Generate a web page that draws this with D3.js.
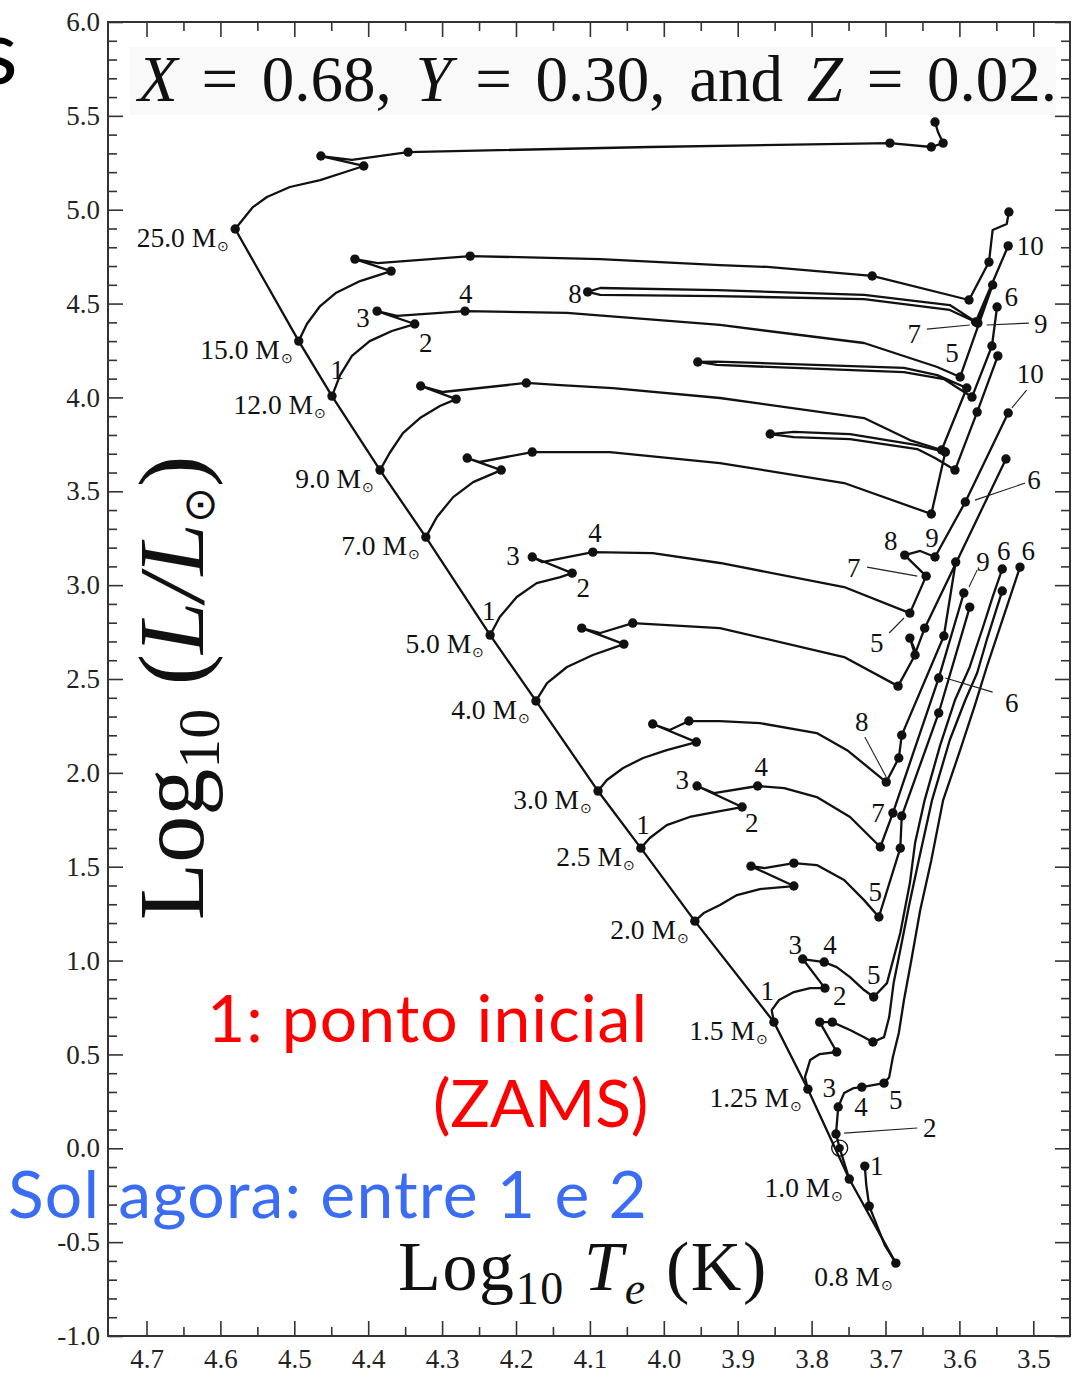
<!DOCTYPE html>
<html>
<head>
<meta charset="utf-8">
<script src="https://cdn.jsdelivr.net/npm/d3@7"></script>
<style>
  body { margin: 0; background: #fff; }
  svg { display: block; }
</style>
</head>
<body>
<svg id="chart" width="1077" height="1375"></svg>
<script>
// Evolutionary tracks in the HR diagram (log Te, log L/Lsun), X = 0.68, Y = 0.30, Z = 0.02.
// Each point: [log10 Te, log10 L/Lsun, 1 if it is a numbered evolutionary stage]

const massLabels = ["25.0", "15.0", "12.0", "9.0", "7.0", "5.0", "4.0", "3.0", "2.5", "2.0", "1.5", "1.25", "1.0", "0.8"];
const zamsLogT = [4.580, 4.494, 4.449, 4.384, 4.322, 4.235, 4.173, 4.089, 4.031, 3.958, 3.851, 3.805, 3.749, 3.686];
const zamsLogL = [4.897, 4.300, 4.007, 3.613, 3.256, 2.734, 2.383, 1.903, 1.599, 1.210, 0.672, 0.315, -0.164, -0.612];

const track25 = [[4.580,4.897,1],[4.556,5.014],[4.537,5.068],[4.506,5.121],[4.465,5.158],[4.431,5.201],[4.406,5.233,1],
  [4.464,5.286,1],[4.422,5.265],[4.346,5.307,1],[4.019,5.334],[3.694,5.355,1],[3.638,5.334,1],[3.622,5.355,1],[3.629,5.414],[3.633,5.467,1]];

const track15 = [[4.494,4.300,1],[4.483,4.391],[4.465,4.487],[4.444,4.556],[4.411,4.620],[4.369,4.673,1],[4.418,4.737,1],
  [4.387,4.716],[4.262,4.753,1],[4.086,4.737],[3.924,4.705],[3.860,4.695],[3.718,4.647,1],[3.587,4.519,1],[3.560,4.721,1],
  [3.555,4.892],[3.536,4.924],[3.533,4.988,1]];

const track12 = [[4.449,4.007,1],[4.438,4.119],[4.422,4.221],[4.398,4.300],[4.368,4.354],[4.337,4.391,1],[4.388,4.460,1],
  [4.361,4.434],[4.269,4.460,1],[4.131,4.450],[3.924,4.386],[3.729,4.290],[3.630,4.162],[3.599,4.109,1],[3.579,4.332],
  [3.555,4.599,1],[3.575,4.396,1],[3.613,4.492],[3.729,4.546],[3.928,4.572],[4.086,4.583],[4.103,4.562,1],[4.086,4.546],
  [3.928,4.540],[3.729,4.524],[3.613,4.466],[3.578,4.402,1],[3.534,4.807,1]];

const track9 = [[4.384,3.613,1],[4.371,3.704],[4.353,3.810],[4.330,3.890],[4.303,3.954],[4.281,3.991,1],[4.329,4.061,1],
  [4.299,4.029],[4.186,4.077,1],[4.140,4.066],[4.069,4.050],[3.924,3.997],[3.729,3.890],[3.667,3.773],[3.624,3.720,1],
  [3.590,4.050,1],[3.630,4.119],[3.675,4.157],[3.928,4.191],[3.954,4.189,1],[3.928,4.173],[3.675,4.135],[3.621,4.098],
  [3.583,4.002,1],[3.556,4.274,1],[3.549,4.482,1]];

const track7 = [[4.322,3.256,1],[4.307,3.363],[4.285,3.469],[4.258,3.549],[4.220,3.613,1],[4.266,3.677,1],[4.249,3.656],
  [4.178,3.709,1],[4.073,3.709],[3.924,3.650],[3.756,3.544],[3.638,3.379,1],[3.619,3.709,1],[3.657,3.746],[3.748,3.805],
  [3.824,3.816],[3.856,3.805,1],[3.824,3.789],[3.748,3.778],[3.657,3.725],[3.633,3.677],[3.606,3.613,1],[3.576,3.922,1],
  [3.548,4.221,1]];

const track5 = [[4.235,2.734,1],[4.222,2.830],[4.199,2.937],[4.172,3.011],[4.140,3.043],[4.124,3.064,1],[4.178,3.150,1],
  [4.165,3.123],[4.096,3.176,1],[4.015,3.171],[3.924,3.118],[3.756,2.990],[3.667,2.851,1],[3.645,3.048,1],[3.674,3.160,1],
  [3.653,3.182],[3.633,3.150,1],[3.592,3.443,1],[3.534,3.917,1]];

const track4 = [[4.173,2.383,1],[4.158,2.478],[4.131,2.564],[4.096,2.628],[4.054,2.686,1],[4.111,2.771,1],[4.086,2.745],
  [4.042,2.798,1],[3.924,2.771],[3.756,2.617],[3.683,2.462,1],[3.660,2.628,1],[3.667,2.718,1],[3.659,2.644],[3.647,2.771,1],
  [3.537,3.672,1]];

const track3 = [[4.089,1.903,1],[4.077,1.962],[4.055,2.026],[4.028,2.079],[3.996,2.121],[3.956,2.164,1],[4.015,2.260,1],
  [3.992,2.228],[3.966,2.276,1],[3.924,2.276],[3.870,2.265],[3.793,2.212],[3.752,2.121],[3.699,1.951,1],[3.682,2.079,1],
  [3.678,2.201,1],[3.621,2.729,1],[3.605,3.123,1]];

const track2p5 = [[4.031,1.599,1],[4.019,1.653],[3.996,1.722],[3.965,1.765],[3.924,1.796],[3.894,1.818,1],[3.955,1.930,1],
  [3.932,1.892],[3.873,1.930,1],[3.837,1.919],[3.793,1.871],[3.748,1.765],[3.707,1.605,1],[3.690,1.786,1],[3.628,2.505,1],
  [3.594,2.958,1]];

const track2 = [[3.958,1.210,1],[3.946,1.253],[3.924,1.296],[3.901,1.349],[3.870,1.381],[3.824,1.397,1],[3.882,1.503,1],
  [3.864,1.493],[3.824,1.519,1],[3.793,1.509],[3.756,1.429],[3.729,1.322],[3.709,1.232,1],[3.680,1.599,1],[3.678,1.770,1],
  [3.628,2.319,1],[3.586,2.883,1]];

const track1p5 = [[3.851,0.672,1],[3.854,0.736],[3.844,0.790],[3.824,0.832],[3.802,0.853],[3.782,0.853,1],[3.812,1.008,1],
  [3.783,0.992,1],[3.766,0.965],[3.748,0.912],[3.729,0.843],[3.716,0.806,1],[3.698,0.880],[3.680,1.147],[3.667,1.413],
  [3.660,1.626],[3.647,1.855],[3.626,2.148],[3.606,2.388],[3.586,2.564],[3.568,2.777],[3.555,2.937],[3.542,3.086,1]];

const track1p25 = [[3.805,0.315,1],[3.809,0.379],[3.802,0.470],[3.789,0.502],[3.766,0.513,1],[3.789,0.672,1],[3.772,0.672,1],
  [3.748,0.630],[3.729,0.592],[3.717,0.566,1],[3.702,0.592],[3.695,0.699],[3.689,0.880],[3.680,1.056],[3.668,1.296],
  [3.655,1.535],[3.637,1.855],[3.613,2.175],[3.592,2.388],[3.576,2.532],[3.563,2.708],[3.549,2.883],[3.542,2.969,1]];

const track1 = [[3.749,-0.164,1],[3.762,0.001],[3.767,0.076,1],[3.764,0.220,1],[3.756,0.294],[3.743,0.321],[3.732,0.326,1],
  [3.702,0.347,1],[3.695,0.379],[3.690,0.486],[3.682,0.614],[3.675,0.790],[3.665,1.003],[3.653,1.269],[3.638,1.535],
  [3.622,1.855],[3.599,2.121],[3.579,2.361],[3.563,2.564],[3.536,2.883],[3.518,3.096,1]];

const track0p8 = [[3.686,-0.612,1],[3.701,-0.516],[3.722,-0.308,1],[3.726,-0.196],[3.728,-0.095,1]];

// present-day Sun
const sunNow = [3.762, 0.001];

// stage numbers: [text, log Te, log L]
const stageLabels = [
  ["1",4.442,4.151],["2",4.322,4.295],["3",4.407,4.428],["4",4.268,4.556],["8",4.120,4.551],["5",3.610,4.237],
  ["7",3.661,4.338],["9",3.490,4.391],["6",3.530,4.540],["10",3.504,4.807],
  ["10",3.504,4.125],["6",3.499,3.560],["8",3.693,3.235],["9",3.637,3.251],["7",3.743,3.096],["5",3.712,2.692],
  ["9",3.568,3.128],["6",3.540,3.182],["6",3.507,3.182],["6",3.529,2.377],
  ["1",4.237,2.867],["2",4.109,2.985],["3",4.204,3.155],["4",4.093,3.278],
  ["8",3.732,2.271],["7",3.710,1.791],["5",3.714,1.370],
  ["1",4.028,1.727],["2",3.881,1.733],["3",3.975,1.967],["4",3.868,2.036],
  ["1",3.860,0.838],["2",3.762,0.811],["3",3.822,1.088],["4",3.775,1.088],["5",3.716,0.923],
  ["3",3.776,0.321],["4",3.733,0.225],["5",3.686,0.262],["2",3.640,0.113],["1",3.712,-0.090]
];

// leader lines from stage numbers to their points: [logTe1, logL1, logTe2, logL2]
const leaderLines = [
  [3.644,4.364,3.586,4.386],[3.563,4.386,3.506,4.396],[3.509,4.039,3.529,3.944],[3.511,3.544,3.579,3.453],
  [3.725,3.096,3.657,3.048],[3.695,2.745,3.675,2.825],[3.576,3.080,3.587,2.990],[3.555,2.430,3.619,2.505],
  [3.728,2.191,3.699,1.978],[3.756,0.081,3.657,0.108]
];

const xMajorTicks = [4.7, 4.6, 4.5, 4.4, 4.3, 4.2, 4.1, 4.0, 3.9, 3.8, 3.7, 3.6, 3.5];
const xMinorTicks = [4.65, 4.55, 4.45, 4.35, 4.25, 4.15, 4.05, 3.95, 3.85, 3.75, 3.65, 3.55];
const yMajorTicks = [6.0, 5.5, 5.0, 4.5, 4.0, 3.5, 3.0, 2.5, 2.0, 1.5, 1.0, 0.5, 0.0, -0.5, -1.0];
const yMinorTicks = d3.range(-9, 60).filter(v => v % 5 !== 0).map(v => v / 10);

const allTracks = [track25, track15, track12, track9, track7, track5, track4, track3, track2p5, track2, track1p5, track1p25, track1, track0p8];

// ---------------------------------------------------------------------------
const svg = d3.select("#chart");
const frame = { left: 108, right: 1070, top: 22, bottom: 1336 };
const x = d3.scaleLinear().domain([4.7, 3.5]).range([146.5, 1033.3]);
const y = d3.scaleLinear().domain([6, -1]).range([22, 1336]);
const serif = "'Liberation Serif', 'Times New Roman', serif";
const sans = "Lato, 'Open Sans', sans-serif";
const ink = "#111";

svg.append("rect").attr("width", 1077).attr("height", 1375).attr("fill", "#fff");

// faint backdrop behind the composition heading
svg.append("rect").attr("x", 130).attr("y", 47).attr("width", 926).attr("height", 68).attr("fill", "#f9f9f9");

// fragment of a heading on the left margin
svg.append("text").attr("x", -22).attr("y", 84).attr("font-family", sans).attr("font-size", 92)
  .attr("fill", "#000").text("s");

// tracks
const line = d3.line().x(d => x(d[0])).y(d => y(d[1]));
const gTracks = svg.append("g");
allTracks.forEach(tr => {
  gTracks.append("path").attr("d", line(tr)).attr("fill", "none").attr("stroke", ink)
    .attr("stroke-width", 2.3).attr("stroke-linejoin", "round").attr("stroke-linecap", "round");
});

// zero-age main sequence
const zams = zamsLogT.map((t, i) => [t, zamsLogL[i]]);
svg.append("path").attr("d", line(zams)).attr("fill", "none").attr("stroke", ink).attr("stroke-width", 2.3);

// leader lines
svg.append("g").selectAll("line").data(leaderLines).join("line")
  .attr("x1", d => x(d[0])).attr("y1", d => y(d[1])).attr("x2", d => x(d[2])).attr("y2", d => y(d[3]))
  .attr("stroke", "#222").attr("stroke-width", 1.1);

// stage points
const stagePts = allTracks.flatMap(tr => tr.filter(p => p[2] === 1));
svg.append("g").selectAll("circle").data(stagePts).join("circle")
  .attr("cx", d => x(d[0])).attr("cy", d => y(d[1])).attr("r", 4.7).attr("fill", ink);

// the Sun today
svg.append("circle").attr("cx", x(sunNow[0])).attr("cy", y(sunNow[1])).attr("r", 8)
  .attr("fill", "none").attr("stroke", ink).attr("stroke-width", 1.3);
svg.append("circle").attr("cx", x(sunNow[0])).attr("cy", y(sunNow[1])).attr("r", 4.2).attr("fill", ink);

// mass labels at the ZAMS
const gMass = svg.append("g").attr("font-family", serif).attr("font-size", 27.5).attr("fill", ink);
massLabels.forEach((m, i) => {
  const last = i === massLabels.length - 1;
  const t = gMass.append("text")
    .attr("x", x(zamsLogT[i]) + (last ? -3 : -6))
    .attr("y", y(zamsLogL[i]) + (last ? 23 : 18))
    .attr("text-anchor", "end");
  t.append("tspan").text(m + " M");
  t.append("tspan").attr("font-size", 14).attr("dy", 4).attr("dx", 1).text("\u2299");
});

// stage numbers
svg.append("g").attr("font-family", serif).attr("font-size", 27).attr("fill", ink)
  .selectAll("text").data(stageLabels).join("text")
  .attr("x", d => x(d[1])).attr("y", d => y(d[2])).attr("dy", "0.35em").attr("text-anchor", "middle")
  .text(d => d[0]);

// axes (ticks pointing inward on all four sides)
function styleAxis(g) {
  g.attr("font-family", serif);
  g.select(".domain").remove();
  g.selectAll("line").attr("stroke", "#333").attr("stroke-width", 1.6);
  g.selectAll("text").attr("font-family", serif).attr("font-size", 27).attr("fill", "#222");
}
const fmt = d => d.toFixed(1);
svg.append("g").attr("transform", `translate(0,${frame.bottom})`)
  .call(d3.axisBottom(x).tickValues(xMajorTicks).tickSize(-15).tickPadding(13).tickFormat(fmt)).call(styleAxis);
svg.append("g").attr("transform", `translate(0,${frame.bottom})`)
  .call(d3.axisBottom(x).tickValues(xMinorTicks).tickSize(-9).tickFormat("")).call(styleAxis);
svg.append("g").attr("transform", `translate(0,${frame.top})`)
  .call(d3.axisTop(x).tickValues(xMajorTicks).tickSize(-15).tickFormat("")).call(styleAxis);
svg.append("g").attr("transform", `translate(0,${frame.top})`)
  .call(d3.axisTop(x).tickValues(xMinorTicks).tickSize(-9).tickFormat("")).call(styleAxis);
svg.append("g").attr("transform", `translate(${frame.left},0)`)
  .call(d3.axisLeft(y).tickValues(yMajorTicks).tickSize(-15).tickPadding(8).tickFormat(fmt)).call(styleAxis);
svg.append("g").attr("transform", `translate(${frame.left},0)`)
  .call(d3.axisLeft(y).tickValues(yMinorTicks).tickSize(-9).tickFormat("")).call(styleAxis);
svg.append("g").attr("transform", `translate(${frame.right},0)`)
  .call(d3.axisRight(y).tickValues(yMajorTicks).tickSize(-15).tickFormat("")).call(styleAxis);
svg.append("g").attr("transform", `translate(${frame.right},0)`)
  .call(d3.axisRight(y).tickValues(yMinorTicks).tickSize(-9).tickFormat("")).call(styleAxis);
svg.append("rect").attr("x", frame.left).attr("y", frame.top)
  .attr("width", frame.right - frame.left).attr("height", frame.bottom - frame.top)
  .attr("fill", "none").attr("stroke", "#333").attr("stroke-width", 2);

// widen letter spacing so a text spans the given width
function fitWidth(sel, target) {
  const w = sel.node().getComputedTextLength();
  const n = sel.text().length;
  sel.attr("letter-spacing", (target - w) / n);
}
// widen word spacing so a text spans the given width
function fitWords(sel, target) {
  const w = sel.node().getComputedTextLength();
  const n = (sel.text().match(/ /g) || []).length;
  if (n > 0) sel.attr("word-spacing", (target - w) / n);
}

// composition heading
const head = svg.append("text").attr("x", 138).attr("y", 101).attr("font-family", serif)
  .attr("font-size", 65).attr("fill", "#111");
head.append("tspan").attr("font-style", "italic").text("X");
head.append("tspan").text(" = 0.68, ");
head.append("tspan").attr("font-style", "italic").text("Y");
head.append("tspan").text(" = 0.30, and ");
head.append("tspan").attr("font-style", "italic").text("Z");
head.append("tspan").text(" = 0.02.");
fitWords(head, 919);

// axis titles
const xt = svg.append("text").attr("x", 398).attr("y", 1290).attr("font-family", serif)
  .attr("font-size", 70).attr("fill", "#111");
xt.append("tspan").text("Log");
xt.append("tspan").attr("font-size", 46).attr("dy", 14).text("10");
xt.append("tspan").attr("dy", -14).text(" ");
xt.append("tspan").attr("font-style", "italic").text("T");
xt.append("tspan").attr("font-style", "italic").attr("font-size", 46).attr("dy", 14).text("e");
xt.append("tspan").attr("dy", -14).text(" (K)");
fitWidth(xt, 370);

const yt = svg.append("text").attr("text-anchor", "middle")
  .attr("font-family", serif).attr("font-size", 88).attr("fill", "#111");
yt.append("tspan").text("Log");
yt.append("tspan").attr("font-size", 56).attr("dy", 15).text("10");
yt.append("tspan").attr("dy", -15).text(" (");
yt.append("tspan").attr("font-style", "italic").text("L/L");
yt.append("tspan").attr("font-size", 40).attr("dy", 10).text("\u2299");
yt.append("tspan").attr("dy", -10).text(")");
const ytScale = 465 / yt.node().getComputedTextLength();
yt.attr("transform", `translate(203,688) rotate(-90) scale(${ytScale})`);

// notes
function note(text, color, xRight, xLeft, baseline) {
  const t = svg.append("text").attr("x", xLeft).attr("y", baseline).attr("font-family", sans)
    .attr("font-size", 66).attr("fill", color).text(text);
  fitWidth(t, xRight - xLeft);
  return t;
}
note("1: ponto inicial", "#ff0000", 648, 207, 1042);
note("(ZAMS)", "#ff0000", 648, 433, 1127);
note("Sol agora: entre 1 e 2", "#3b6cf4", 648, 8, 1218);
</script>
</body>
</html>
